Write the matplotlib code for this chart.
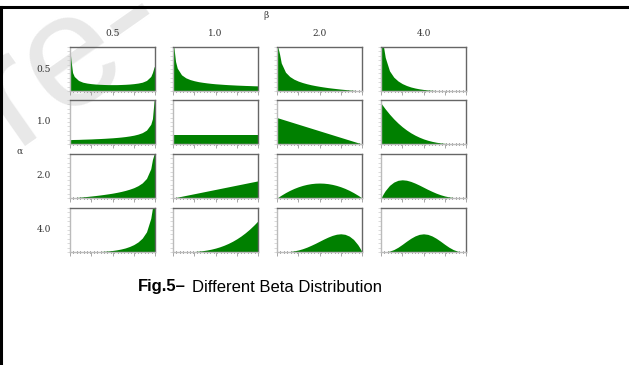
import matplotlib.pyplot as plt
from matplotlib.lines import Line2D

# parameter values shown on the grid
alpha_labels = ['0.5', '1.0', '2.0', '4.0']
beta_labels = ['0.5', '1.0', '2.0', '4.0']

# sample positions along each little panel (0..1)
x_pts = [0, .01, .03, .05, .1, .15, .2, .25, .3, .35, .4, .45, .5,
         .55, .6, .65, .7, .75, .8, .85, .9, .95, .97, .99, 1.0]

# curve heights, as a fraction of the panel height
a05_b05 = [.92, .73, .42, .33, .24, .20, .18, .167, .158, .152, .148, .145, .145,
           .145, .148, .152, .158, .167, .18, .20, .24, .33, .42, .55, .56]
a05_b1 = [1, 1, .671, .52, .368, .30, .26, .233, .212, .197, .184, .173, .164,
          .157, .15, .144, .139, .134, .13, .126, .123, .119, .118, .117, .116]
a05_b2 = [1, 1, .84, .637, .427, .329, .268, .225, .192, .165, .142, .123, .106,
          .091, .077, .065, .054, .043, .034, .024, .016, .008, .005, .0015, 0]
a05_b4 = [1, 1, 1, .763, .458, .315, .228, .168, .125, .092, .068, .049, .035,
          .024, .016, .011, .0064, .0036, .0018, .0007, .0002, 0, 0, 0, 0]

a1_b05 = [.1, .1, .102, .103, .105, .109, .112, .115, .12, .124, .129, .135, .141,
          .149, .158, .169, .183, .2, .224, .258, .316, .447, .577, 1, 1]
a1_b1 = [.2] * 25
a1_b2 = [.6, .594, .582, .57, .54, .51, .48, .45, .42, .39, .36, .33, .3,
         .27, .24, .21, .18, .15, .12, .09, .06, .03, .018, .006, 0]
a1_b4 = [.93, .902, .849, .797, .678, .571, .476, .392, .319, .255, .201, .155, .116,
         .085, .06, .04, .025, .0145, .0074, .0031, .0009, .0001, 0, 0, 0]

a2_b05 = [0, .0016, .0048, .008, .0165, .0255, .035, .045, .056, .068, .081, .095, .11,
          .128, .148, .172, .2, .234, .28, .343, .445, .664, .875, 1, 1]
a2_b1 = [0, .0039, .0117, .0195, .039, .0585, .078, .0975, .117, .1365, .156, .1755, .195,
         .2145, .234, .2535, .273, .2925, .312, .3315, .351, .3705, .378, .386, .39]
a2_b2 = [0, .0135, .0396, .0646, .1224, .1734, .2176, .255, .2856, .3094, .3264, .3366, .34,
         .3366, .3264, .3094, .2856, .255, .2176, .1734, .1224, .0646, .0396, .0135, 0]
a2_b4 = [0, .038, .107, .168, .286, .361, .402, .414, .404, .377, .339, .294, .245,
         .196, .151, .109, .074, .046, .025, .011, .0035, .0005, .0001, 0, 0]

a4_b05 = [0, 0, 0, 0, .0002, .0007, .0018, .0036, .0064, .011, .016, .024, .035,
          .049, .068, .092, .125, .168, .228, .315, .458, .763, 1, 1, 1]
a4_b1 = [0, 0, 0, .0001, .0007, .0024, .0057, .0111, .0192, .0305, .0454, .0647, .0888,
         .1181, .1534, .195, .2435, .2995, .3635, .436, .5176, .6085, .648, .689, .71]
a4_b2 = [0, 0, .0001, .0005, .0035, .011, .025, .046, .074, .109, .151, .196, .245,
         .294, .339, .377, .404, .414, .402, .361, .286, .168, .107, .038, 0]
a4_b4 = [0, 0, .0007, .0028, .0193, .0548, .108, .174, .245, .311, .365, .401, .413,
         .401, .365, .311, .245, .174, .108, .0548, .0193, .0028, .0007, 0, 0]

curves = [[a05_b05, a05_b1, a05_b2, a05_b4],
          [a1_b05, a1_b1, a1_b2, a1_b4],
          [a2_b05, a2_b1, a2_b2, a2_b4],
          [a4_b05, a4_b1, a4_b2, a4_b4]]

W, H = 629, 365
fig = plt.figure(figsize=(W / 100, H / 100), dpi=100)

# faint watermark behind the panels
fig.text(14 / W, 1 - 146 / H, 're-', fontsize=116, color='#e8e8e8', rotation=35,
         rotation_mode='anchor', family='Liberation Sans', ha='left', va='baseline', zorder=0)

# page border lines
fig.add_artist(Line2D([0, 1], [1 - 7 / H, 1 - 7 / H], color='black', lw=2.2, zorder=3))
fig.add_artist(Line2D([1.2 / W, 1.2 / W], [0, 1 - 7 / H], color='black', lw=2.2, zorder=3))

col_left = [70, 173, 277, 381]
row_top = [47, 100, 154, 208]
pw, ph = 85, 44
lab = dict(family='DejaVu Serif', fontsize=6.5, color='#333333')

for i in range(4):
    for j in range(4):
        ax = fig.add_axes([col_left[j] / W, 1 - (row_top[i] + ph) / H, pw / W, ph / H])
        ax.set_zorder(2)
        ax.set_facecolor('none')
        ax.fill_between(x_pts, curves[i][j], 0, color='#008000', lw=0)
        ax.set_xlim(0, 1)
        ax.set_ylim(0, 1)
        ax.set_xticks([0, .25, .5, .75, 1])
        ax.set_xticks([k / 25 for k in range(26)], minor=True)
        ax.set_yticks([k / 10 for k in range(11)])
        ax.set_xticklabels([])
        ax.set_yticklabels([])
        ax.tick_params(axis='x', which='major', length=3, width=0.6, color='#999999', direction='out')
        ax.tick_params(axis='x', which='minor', length=1.5, width=0.6, color='#333333', direction='inout')
        ax.tick_params(axis='y', length=2.5, width=0.5, color='#cccccc', direction='out')
        for s in ax.spines.values():
            s.set_color('#666666')
            s.set_linewidth(1.0)
        ax.spines['bottom'].set_color('#bbbbbb')
        ax.spines['left'].set_color('#bbbbbb')

for j in range(4):
    fig.text((col_left[j] + pw / 2) / W, 1 - 33 / H, beta_labels[j], ha='center', va='center', **lab)
for i in range(4):
    fig.text(44 / W, 1 - (row_top[i] + ph / 2) / H, alpha_labels[i], ha='center', va='center', **lab)

fig.text(266 / W, 1 - 15 / H, 'β', ha='center', va='center', **lab)
fig.text(20 / W, 1 - 151 / H, 'α', ha='center', va='center', **lab)

fig.text(138 / W, 1 - 287 / H, 'Fig.5–', family='Liberation Sans', fontweight='bold',
         fontsize=12, ha='left', va='center')
fig.text(192 / W, 1 - 287 / H, 'Different Beta Distribution', family='Liberation Sans',
         fontsize=12, ha='left', va='center')

fig.savefig('out.png', dpi=100)
